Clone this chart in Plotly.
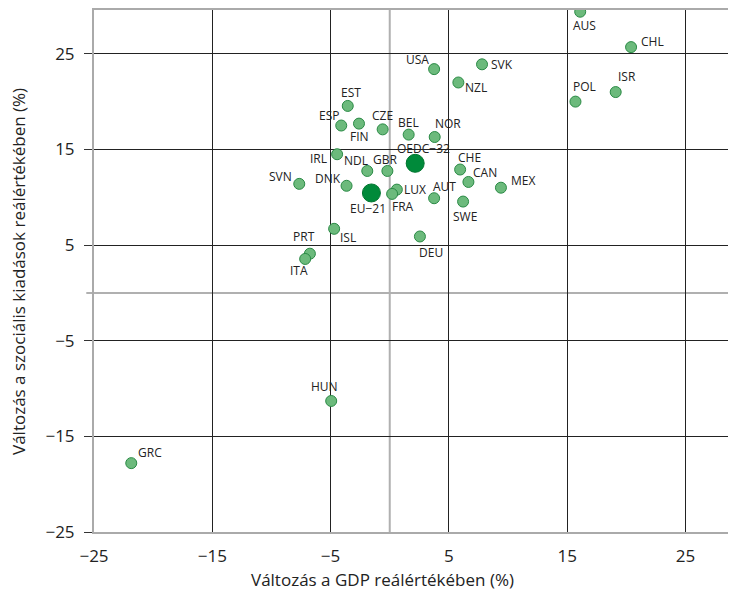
import plotly.graph_objects as go

countries = ["AUS", "CHL", "SVK", "USA", "NZL", "ISR", "POL", "EST", "ESP", "FIN", "CZE",
             "BEL", "NOR", "IRL", "NDL", "GBR", "CHE", "CAN", "MEX", "SVN", "DNK", "LUX",
             "FRA", "AUT", "SWE", "ISL", "DEU", "PRT", "ITA", "HUN", "GRC"]
gdp_change = [16.1, 20.4, 7.8, 3.75, 5.8, 19.1, 15.7, -3.55, -4.1, -2.6, -0.6,
              1.6, 3.8, -4.45, -1.9, -0.2, 5.95, 6.65, 9.4, -7.65, -3.65, 0.6,
              0.2, 3.75, 6.2, -4.7, 2.55, -6.75, -7.15, -4.95, -21.85]
social_change = [29.4, 25.7, 23.9, 23.4, 22.0, 21.0, 20.0, 19.55, 17.5, 17.7, 17.1,
                 16.55, 16.3, 14.5, 12.75, 12.75, 12.9, 11.6, 11.0, 11.4, 11.2, 10.8,
                 10.35, 9.9, 9.55, 6.7, 5.9, 4.1, 3.55, -11.3, -17.8]

avg_names = ["OEDC−32", "EU−21"]
avg_gdp = [2.15, -1.55]
avg_social = [13.55, 10.45]

x_ticks = [-25, -15, -5, 5, 15, 25]
y_ticks = [-25, -15, -5, 5, 15, 25]

x_title = "Változás a GDP reálértékében (%)"
y_title = "Változás a szociális kiadások reálértékében (%)"

# label offsets in pixels (dx right, dy down) -- styling only
label_offset = {
    "AUS": (4, 14), "CHL": (21, -6), "SVK": (20, 0), "USA": (-17, -10), "NZL": (18, 5),
    "ISR": (11, -16), "POL": (9, -15), "EST": (3, -13), "ESP": (-12, -10), "FIN": (1, 13),
    "CZE": (0, -14), "BEL": (0, -12), "NOR": (13, -14), "IRL": (-19, 4), "NDL": (-11, -10),
    "GBR": (-2, -11), "CHE": (9, -12), "CAN": (17, -9), "MEX": (22, -7), "SVN": (-19, -7),
    "DNK": (-19, -7), "LUX": (18, 0), "FRA": (11, 13), "AUT": (10, -12), "SWE": (2, 15),
    "ISL": (14, 9), "DEU": (11, 16), "PRT": (-6, -17), "ITA": (-6, 12), "HUN": (-7, -14),
    "GRC": (19, -11), "OEDC−32": (8, -15), "EU−21": (-3, 16),
}

label_font = dict(family="Open Sans, DejaVu Sans, sans-serif", size=12, color="#222222")
axis_font = dict(family="Open Sans, Lato, sans-serif", size=17, color="#222222")
title_font = dict(family="Open Sans, Lato, sans-serif", size=17, color="#222222")

fig = go.Figure()

fig.add_trace(go.Scatter(
    x=gdp_change, y=social_change, mode="markers", cliponaxis=False,
    marker=dict(size=11, color="#6cba7c", line=dict(color="#2a8a45", width=1)),
    hoverinfo="text", text=countries, showlegend=False,
))
fig.add_trace(go.Scatter(
    x=avg_gdp, y=avg_social, mode="markers", cliponaxis=False,
    marker=dict(size=18, color="#008a3a", line=dict(color="#00752f", width=1)),
    hoverinfo="text", text=avg_names, showlegend=False,
))

annotations = []
for name, gx, sy in list(zip(countries, gdp_change, social_change)) + list(zip(avg_names, avg_gdp, avg_social)):
    dx, dy = label_offset[name]
    annotations.append(dict(
        x=gx, y=sy, xref="x", yref="y", text=name, showarrow=False,
        xshift=dx, yshift=-dy, xanchor="center", yanchor="middle", font=label_font,
    ))

annotations.append(dict(
    x=0.450, y=-0.0916, xref="paper", yref="paper", yanchor="middle",
    xanchor="center", text=x_title, showarrow=False, font=title_font,
))
annotations.append(dict(
    x=-0.1184, y=0.5, xref="paper", yref="paper", xanchor="center", yanchor="middle",
    text=y_title, textangle=-90, showarrow=False, font=title_font,
))

shapes = [
    # zero lines
    dict(type="line", xref="x", yref="paper", x0=0, x1=0, y0=0, y1=1,
         line=dict(color="#b0b0b0", width=2), layer="below"),
    dict(type="line", xref="paper", yref="y", x0=-0.012, x1=1, y0=0, y1=0,
         line=dict(color="#b0b0b0", width=2), layer="below"),
]

fig.update_layout(
    width=728, height=587,
    margin=dict(l=86, r=0, t=0, b=63),
    paper_bgcolor="white", plot_bgcolor="white",
    annotations=annotations, shapes=shapes,
    xaxis=dict(
        range=[-25, 29.27], tickvals=x_ticks, ticktext=[f"{v}".replace("-", "−") for v in x_ticks],
        showgrid=True, gridcolor="#222222", gridwidth=1, zeroline=False,
        showline=True, linecolor="#aaaaaa", linewidth=2, mirror=True,
        ticks="", tickfont=axis_font, ticklabelstandoff=8,
    ),
    yaxis=dict(
        range=[-25, 29.58], tickvals=y_ticks, ticktext=[f"{v}".replace("-", "−") for v in y_ticks],
        showgrid=True, gridcolor="#222222", gridwidth=1, zeroline=False,
        showline=True, linecolor="#aaaaaa", linewidth=2,
        ticks="outside", ticklen=8, tickcolor="#333333", tickwidth=1,
        tickfont=axis_font, ticklabelstandoff=6,
    ),
)

fig.write_html("out.html")
